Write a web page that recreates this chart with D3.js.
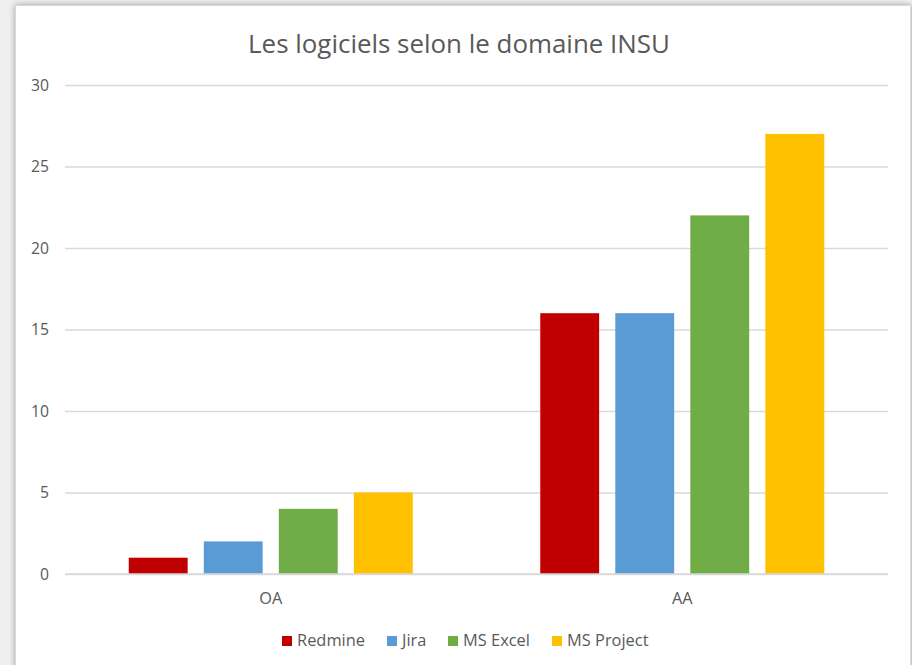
<!DOCTYPE html>
<html><head><meta charset="utf-8">
<script src="https://cdn.jsdelivr.net/npm/d3@7"></script>
<style>html,body{margin:0;padding:0;background:#efefef;overflow:hidden}svg{display:block}</style>
</head><body>
<script>
const title = "Les logiciels selon le domaine INSU";
const categories = ["OA", "AA"];
const seriesNames = ["Redmine", "Jira", "MS Excel", "MS Project"];
const seriesColors = ["#c00000", "#5b9bd5", "#70ad47", "#ffc000"];
const redmine = [1, 16];
const jira = [2, 16];
const msExcel = [4, 22];
const msProject = [5, 27];
const yTicks = [0, 5, 10, 15, 20, 25, 30];

const seriesValues = [redmine, jira, msExcel, msProject];
const W = 912, H = 665;
const svg = d3.select("body").append("svg").attr("width", W).attr("height", H);
const defs = svg.append("defs");
const f = defs.append("filter").attr("id", "sh").attr("x", "-5%").attr("y", "-5%").attr("width", "110%").attr("height", "110%");
f.append("feGaussianBlur").attr("in", "SourceAlpha").attr("stdDeviation", 3).attr("result", "b");
f.append("feComponentTransfer").attr("in","b").attr("result","o2").append("feFuncA").attr("type","linear").attr("slope",0.35);
const m = f.append("feMerge"); m.append("feMergeNode").attr("in", "o2"); m.append("feMergeNode").attr("in", "SourceGraphic");

svg.append("rect").attr("x", 15.5).attr("y", 5.5).attr("width", 895).attr("height", 680)
  .attr("fill", "#ffffff").attr("stroke", "#d9d9d9").attr("filter", "url(#sh)");

const font = "'Open Sans', sans-serif";
const textColor = "#595959";

// helper: font size so that a sample string reaches a target width
function fitSize(sample, target) {
  const tmp = svg.append("text").attr("font-family", font).attr("font-size", 20).text(sample);
  const w = tmp.node().getComputedTextLength();
  tmp.remove();
  return 20 * target / w;
}
const tickSize = fitSize("30", 18);
const catSize = fitSize("OA", 23);
const legSize = fitSize("Redmine", 68);
const titleSize = fitSize(title, 422);

const margin = {left: 65, right: 888, top: 85, bottom: 574};
const y = d3.scaleLinear().domain([0, 30]).range([margin.bottom, margin.top]);
const x0 = d3.scaleBand().domain(categories).range([margin.left, margin.right]).paddingInner(0).paddingOuter(0);
const groupW = 284;
const x1 = d3.scaleBand().domain(seriesNames).range([0, groupW]).paddingInner(0.215).paddingOuter(0);

// gridlines + y labels
const yAxis = d3.axisLeft(y).tickValues(yTicks).tickSize(-(margin.right - margin.left)).tickPadding(16);
const ga = svg.append("g").attr("transform", `translate(${margin.left},0)`).call(yAxis);
ga.select(".domain").remove();
ga.selectAll(".tick line").attr("stroke", "#d9d9d9").attr("stroke-width", 1.3);
ga.selectAll(".tick text").attr("fill", textColor).attr("font-family", font).attr("font-size", tickSize).attr("x", -16);

// bars
const groups = svg.append("g").selectAll("g").data(categories).join("g")
  .attr("transform", d => `translate(${x0(d) + (x0.bandwidth() - groupW) / 2},0)`);
groups.selectAll("rect").data((d, i) => seriesNames.map((s, j) => ({s, j, v: seriesValues[j][i]})))
  .join("rect")
  .attr("x", d => x1(d.s)).attr("width", x1.bandwidth())
  .attr("y", d => y(d.v)).attr("height", d => y(0) - y(d.v))
  .attr("fill", d => seriesColors[d.j]);

// baseline
svg.append("line").attr("x1", margin.left).attr("x2", margin.right).attr("y1", y(0)).attr("y2", y(0))
  .attr("stroke", "#d9d9d9").attr("stroke-width", 1.3);

// category axis
const xAxis = d3.axisBottom(x0).tickSize(0).tickPadding(0);
const gx = svg.append("g").attr("transform", `translate(0,${y(0)})`).call(xAxis);
gx.select(".domain").remove();
gx.selectAll(".tick text").attr("fill", textColor).attr("font-family", font).attr("font-size", catSize)
  .attr("dy", null).attr("y", 30);

// title
svg.append("text").attr("x", 459).attr("y", 53).attr("text-anchor", "middle")
  .attr("fill", textColor).attr("font-family", font).attr("font-size", titleSize).text(title);

// legend
const legendX = [282, 387, 448, 552];
const lg = svg.append("g");
seriesNames.forEach((s, j) => {
  lg.append("rect").attr("x", legendX[j]).attr("y", 636).attr("width", 10).attr("height", 10).attr("fill", seriesColors[j]);
  lg.append("text").attr("x", legendX[j] + 15).attr("y", 646).attr("fill", textColor)
    .attr("font-family", font).attr("font-size", legSize).text(s);
});
</script>
</body></html>
